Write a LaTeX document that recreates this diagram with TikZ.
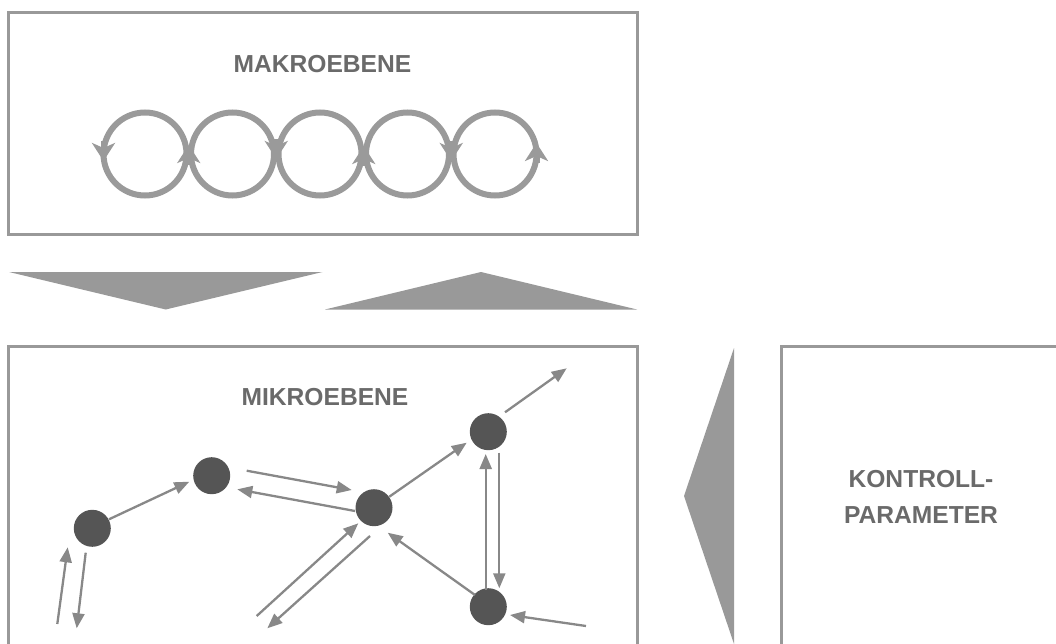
\documentclass[tikz,border=0pt]{standalone}
\usepackage{fontspec}
\setmainfont{Liberation Sans}
\usetikzlibrary{arrows.meta}
\definecolor{framegray}{HTML}{999999}
\definecolor{ringgray}{HTML}{9A9A9A}
\definecolor{textgray}{HTML}{6A6A6A}
\definecolor{dotgray}{HTML}{555555}
\definecolor{arrowgray}{HTML}{888888}
\tikzset{
  frame/.style={draw=framegray, line width=3pt},
  bigtri/.style={fill=framegray, draw=none},
  ring/.style={draw=ringgray, line width=6pt},
  ringtip/.style={draw=ringgray, line width=6pt, -{Stealth[length=18pt,width=23pt,inset=5pt]}},
  lbl/.style={text=textgray, font=\bfseries\fontsize{24.6}{36}\selectfont, inner sep=0pt, align=center},
  dot/.style={circle, fill=dotgray, draw=none, minimum size=37pt, inner sep=0pt},
  conn/.style={draw=arrowgray, line width=2.3pt, -{Triangle[length=15pt,width=12pt]}}
}
\begin{document}
\begin{tikzpicture}[x=1pt,y=-1pt]
\useasboundingbox (0,0) rectangle (1056,644);
% frames
\draw[frame] (8.5,12.5) rectangle (637.5,234.5);
\draw[frame] (8.5,346.7) rectangle (637.5,660);
\draw[frame] (781.7,346.7) rectangle (1070,660);
% big triangles
\fill[bigtri] (9,272) -- (322.5,272) -- (165.7,309.5) -- cycle;
\fill[bigtri] (325,309.5) -- (481,272) -- (637,309.5) -- cycle;
\fill[bigtri] (734,348) -- (734,644) -- (684,496) -- cycle;
% labels
\node[lbl] (makro) at (322.5,64) {MAKROEBENE};
\node[lbl] (mikro) at (325,397) {MIKROEBENE};
\node[lbl] (kontroll) at (921,497) {KONTROLL-\\PARAMETER};
% macro rings
\foreach \cx/\nm in {145/r1,232.5/r2,320/r3,407.5/r4,495/r5}{
  \node[circle, minimum size=83pt, inner sep=0pt] (\nm) at (\cx,154) {};
  \draw[ring] (\cx,154) circle (41.5pt);
}
\draw[ringtip] (103.5,141) -- (103.5,161);
\draw[ringtip] (188.75,165) -- (188.75,145);
\draw[ringtip] (276.25,139) -- (276.25,159);
\draw[ringtip] (363.75,166) -- (363.75,146);
\draw[ringtip] (451.25,141) -- (451.25,161);
\draw[ringtip] (536.5,163) -- (536.5,143);
% micro nodes
\node[dot] (A) at (92.3,528.3) {};
\node[dot] (B) at (211.7,475.7) {};
\node[dot] (C) at (374,507.7) {};
\node[dot] (D) at (488.3,431.7) {};
\node[dot] (E) at (488.3,606.7) {};
% connector end points
\coordinate (ab1) at (109,519.3);   \coordinate (ab2) at (189.3,481.7);
\coordinate (bc1) at (246.7,470.7); \coordinate (bc2) at (351.7,490);
\coordinate (cb1) at (355,511);     \coordinate (cb2) at (237.3,489.3);
\coordinate (lc1) at (256.7,616);   \coordinate (lc2) at (358.3,523.3);
\coordinate (cl1) at (370,536);     \coordinate (cl2) at (267.3,628.3);
\coordinate (ua1) at (57.3,624);    \coordinate (ua2) at (67.7,547.3);
\coordinate (da1) at (85.7,552.7);  \coordinate (da2) at (76.7,628.3);
\coordinate (cd1) at (389.3,496.7); \coordinate (cd2) at (466.7,442.7);
\coordinate (do1) at (505,412.3);   \coordinate (do2) at (566.7,368.3);
\coordinate (ed1) at (485.7,590);   \coordinate (ed2) at (485.7,454);
\coordinate (de1) at (499.3,452.7); \coordinate (de2) at (499.3,588.3);
\coordinate (ec1) at (475,595);     \coordinate (ec2) at (387.7,532.7);
\coordinate (ie1) at (586,626);     \coordinate (ie2) at (510,615);
% connectors
\draw[conn] (ab1) -- (ab2);
\draw[conn] (bc1) -- (bc2);
\draw[conn] (cb1) -- (cb2);
\draw[conn] (lc1) -- (lc2);
\draw[conn] (cl1) -- (cl2);
\draw[conn] (ua1) -- (ua2);
\draw[conn] (da1) -- (da2);
\draw[conn] (cd1) -- (cd2);
\draw[conn] (do1) -- (do2);
\draw[conn] (ed1) -- (ed2);
\draw[conn] (de1) -- (de2);
\draw[conn] (ec1) -- (ec2);
\draw[conn] (ie1) -- (ie2);
\end{tikzpicture}
\end{document}
